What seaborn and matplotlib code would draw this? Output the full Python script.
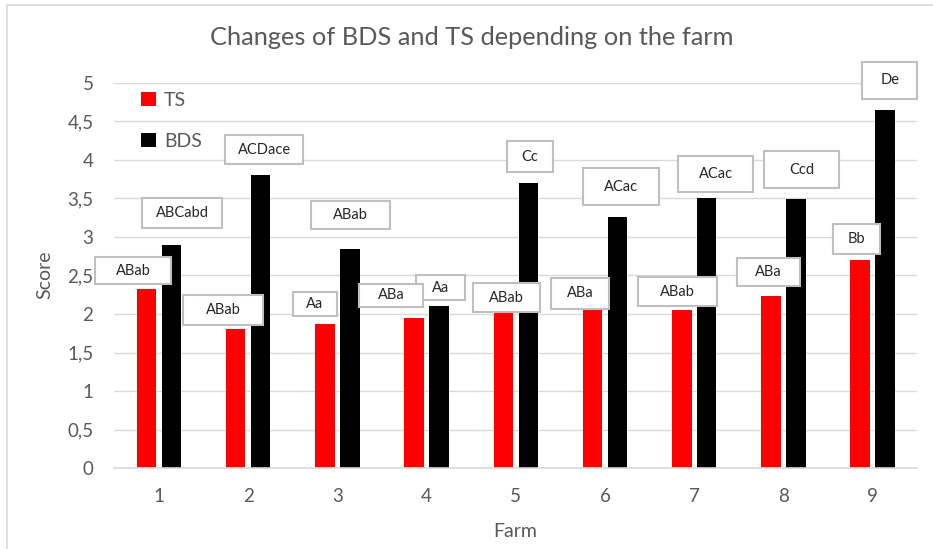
import matplotlib
matplotlib.use("Agg")
import matplotlib.pyplot as plt
from matplotlib.patches import Rectangle
from matplotlib.ticker import FixedLocator, FuncFormatter
import seaborn as sns
import pandas as pd
import numpy as np

# ---- data ----
farms = ["1", "2", "3", "4", "5", "6", "7", "8", "9"]
ts_values = [2.32, 1.81, 1.87, 1.95, 2.01, 2.06, 2.05, 2.23, 2.70]
bds_values = [2.90, 3.80, 2.84, 2.10, 3.70, 3.26, 3.50, 3.49, 4.64]
ts_letters = ["ABab", "ABab", "Aa", "ABa", "ABab", "ABa", "ABab", "ABa", "Bb"]
bds_letters = ["ABCabd", "ACDace", "ABab", "Aa", "Cc", "ACac", "ACac", "Ccd", "De"]
series_names = ["TS", "BDS"]

# label box layout: (x offset from category, centre y, width, height) in data units
ts_boxes = [(-0.29, 2.56, 0.86, 0.35), (-0.28, 2.05, 0.89, 0.38), (-0.25, 2.13, 0.50, 0.32),
            (-0.40, 2.24, 0.71, 0.29), (-0.10, 2.21, 0.75, 0.38), (-0.28, 2.27, 0.64, 0.40),
            (-0.19, 2.29, 0.89, 0.38), (-0.17, 2.54, 0.70, 0.36), (-0.18, 2.97, 0.52, 0.39)]
bds_boxes = [(0.26, 3.31, 0.89, 0.38), (0.18, 4.13, 0.88, 0.38), (0.15, 3.28, 0.88, 0.36),
             (0.16, 2.34, 0.55, 0.32), (0.16, 4.04, 0.52, 0.40), (0.18, 3.65, 0.85, 0.48),
             (0.24, 3.81, 0.84, 0.47), (0.20, 3.87, 0.84, 0.48), (0.19, 5.03, 0.62, 0.48)]

df = pd.DataFrame({
    "Farm": farms * 2,
    "Score": ts_values + bds_values,
    "Series": [series_names[0]] * len(farms) + [series_names[1]] * len(farms),
})

sns.set_theme(style="white")
plt.rcParams["font.family"] = ["Lato", "DejaVu Sans"]
grey = "#595959"
grid_c = "#D9D9D9"

fig = plt.figure(figsize=(9.33, 5.49), dpi=100)
ax = fig.add_axes([0.1225, 0.147, 0.8607, 0.7027])

sns.barplot(data=df, x="Farm", y="Score", hue="Series", order=farms,
            hue_order=series_names, palette={"TS": "#FF0000", "BDS": "#000000"},
            width=0.56, gap=0.22, saturation=1, linewidth=0, ax=ax, zorder=2)

ax.set_xlim(-0.5, len(farms) - 0.5)
ax.set_ylim(0, 5)
yt = np.arange(0, 5.01, 0.5)
ax.set_yticks(yt)
ax.yaxis.set_major_formatter(FuncFormatter(lambda v, p: (f"{v:g}").replace(".", ",")))
ax.grid(axis="y", color=grid_c, linewidth=1, zorder=0)
ax.set_axisbelow(True)
for s in ["top", "right", "left"]:
    ax.spines[s].set_visible(False)
ax.spines["bottom"].set_color(grid_c)
ax.spines["bottom"].set_linewidth(1.2)

ax.tick_params(axis="y", length=0, pad=15, labelsize=13.5, labelcolor=grey)
ax.tick_params(axis="x", which="major", length=0, pad=14, labelsize=13.5, labelcolor=grey)
ax.xaxis.set_minor_locator(FixedLocator(np.arange(-0.5, len(farms), 1.0)))
ax.tick_params(axis="x", which="minor", length=5, width=1, color=grid_c)

ax.set_xlabel("")
ax.set_ylabel("")
fig.text(0.552, 0.031, "Farm", ha="center", va="center", fontsize=14, color=grey)
fig.text(0.048, 0.499, "Score", ha="center", va="center", rotation=90, fontsize=14, color=grey)
fig.text(0.506, 0.931, "Changes of BDS and TS depending on the farm", ha="center", va="center",
         fontsize=18.3, color=grey)

# legend
handles, labels = ax.get_legend_handles_labels()
leg = ax.legend(handles, labels, loc="upper left", bbox_to_anchor=(0.012, 1.022),
                frameon=False, fontsize=14, handlelength=0.75, handleheight=0.75,
                handletextpad=0.4, labelspacing=1.25)
for t in leg.get_texts():
    t.set_color(grey)

# letter boxes
for letters, boxes in [(bds_letters, bds_boxes), (ts_letters, ts_boxes)]:
    for i, (lab, (dx, cy, w, h)) in enumerate(zip(letters, boxes)):
        cx = i + dx
        ax.add_patch(Rectangle((cx - w / 2, cy - h / 2), w, h, facecolor="white",
                               edgecolor="#BFBFBF", linewidth=1.5, zorder=5, clip_on=False))
        ax.text(cx, cy, lab, ha="center", va="center", fontsize=10.5, color="#262626",
                zorder=6, clip_on=False)

# outer chart border (left/top visible)
fig.patches.append(Rectangle((7 / 933, -0.05), 1.2, 1 - 5 / 549 + 0.05, transform=fig.transFigure,
                             facecolor="none", edgecolor=grid_c, linewidth=1.2))

fig.savefig("out.png", dpi=100)
